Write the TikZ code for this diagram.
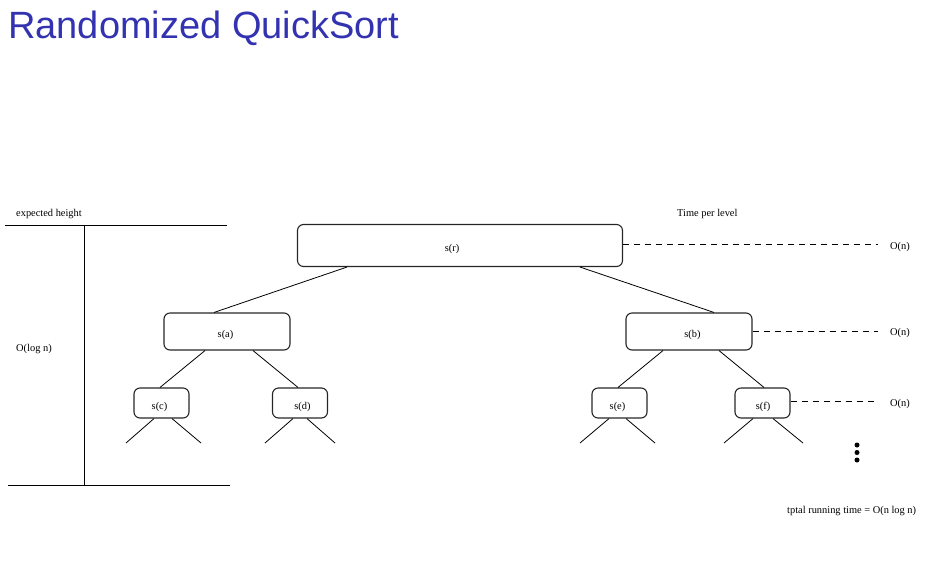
\documentclass[tikz,border=0pt]{standalone}
\usepackage{fontspec}
\setmainfont{Liberation Serif}
\newfontfamily\titlefont{Liberation Sans}
\usetikzlibrary{calc}
\definecolor{titleblue}{RGB}{51,51,178}
\newcommand\boxtxt[3]{\raisebox{-#2}[\height][\depth]{\makebox[0pt]{\hspace*{#1}\hspace*{#1}#3}}}
\begin{document}
\begin{tikzpicture}[x=1pt,y=-1pt,
  box/.style={draw=black!85,line width=1.1pt,rounded corners=6pt,inner sep=0pt,font=\fontsize{10.4}{12}\selectfont},
  lbl/.style={inner sep=0pt,anchor=west,font=\fontsize{10.4}{12}\selectfont},
  edge/.style={line width=0.8pt},
  lev/.style={line width=0.8pt,dash pattern=on 6pt off 5pt}]
\useasboundingbox (0,0) rectangle (934,574);
\node[anchor=base west,inner sep=0pt,text=titleblue,font=\titlefont\fontsize{38}{44}\selectfont] (title) at (8,38) {Randomized QuickSort};
% left height scale
\node[lbl] (eh) at (16,214) {expected height};
\node[lbl] (ologn) at (16,349.5) {O(log n)};
\draw[line width=0.9pt] (5,225) -- (227,225);
\draw[line width=0.9pt] (84,225) -- (84,485);
\draw[line width=0.9pt] (8,485) -- (230,485);
% tree nodes
\node[box,minimum width=325pt,minimum height=42pt] (r) at (460,245.5) {\boxtxt{-8pt}{3pt}{s(r)}};
\node[box,minimum width=126pt,minimum height=37pt] (a) at (227,331.5) {\boxtxt{-1.5pt}{3.5pt}{s(a)}};
\node[box,minimum width=126pt,minimum height=37pt] (b) at (689,331.5) {\boxtxt{3.5pt}{3.5pt}{s(b)}};
\node[box,minimum width=55pt,minimum height=30pt] (c) at (161.5,403) {\boxtxt{-2pt}{3.5pt}{s(c)}};
\node[box,minimum width=55pt,minimum height=30pt] (d) at (300,403) {\boxtxt{2.5pt}{3.5pt}{s(d)}};
\node[box,minimum width=55pt,minimum height=30pt] (e) at (619.5,403) {\boxtxt{-2pt}{3.5pt}{s(e)}};
\node[box,minimum width=55pt,minimum height=30pt] (f) at (762.5,403) {\boxtxt{0.5pt}{3.5pt}{s(f)}};
% edges
\draw[edge] ($(r.south)+(-113,0)$) -- ($(a.north)+(-13,0)$);
\draw[edge] ($(r.south)+(120,0)$) -- ($(b.north)+(25,0)$);
\draw[edge] ($(a.south)+(-22,0)$) -- ($(c.north)+(-1.5,0)$);
\draw[edge] ($(a.south)+(26,0)$) -- ($(d.north)+(-2,0)$);
\draw[edge] ($(b.south)+(-26,0)$) -- ($(e.north)+(-1.5,0)$);
\draw[edge] ($(b.south)+(30,0)$) -- ($(f.north)+(1.5,0)$);
% leaf stubs
\coordinate (c1) at (126,443); \coordinate (c2) at (201,443);
\coordinate (d1) at (265,443); \coordinate (d2) at (335,443);
\coordinate (e1) at (580,443); \coordinate (e2) at (655,443);
\coordinate (f1) at (724,443); \coordinate (f2) at (803,443);
\draw[edge] ($(c.south)+(-7.5,0)$) -- (c1);
\draw[edge] ($(c.south)+(10.5,0)$) -- (c2);
\draw[edge] ($(d.south)+(-7,0)$) -- (d1);
\draw[edge] ($(d.south)+(7,0)$) -- (d2);
\draw[edge] ($(e.south)+(-10.5,0)$) -- (e1);
\draw[edge] ($(e.south)+(6.5,0)$) -- (e2);
\draw[edge] ($(f.south)+(-9.5,0)$) -- (f1);
\draw[edge] ($(f.south)+(10.5,0)$) -- (f2);
% time per level
\node[lbl] (tpl) at (677,214) {Time per level};
\node[lbl] (on1) at (890,247) {O(n)};
\node[lbl] (on2) at (890,332.5) {O(n)};
\node[lbl] (on3) at (890,403.5) {O(n)};
\coordinate (l1s) at ([yshift=1.5pt]r.east);
\coordinate (l2s) at (b.east);
\coordinate (l3s) at ([yshift=2pt]f.east);
\coordinate (l1x) at ([xshift=-12pt]on1.west);
\coordinate (l2x) at ([xshift=-12pt]on2.west);
\coordinate (l3x) at ([xshift=-13pt]on3.west);
\draw[lev] (l1s) -- (l1x |- l1s);
\draw[lev] (l2s) -- (l2x |- l2s);
\draw[lev] (l3s) -- (l3x |- l3s);
% dots
\fill (857,445) circle (2.5pt) (857,452.5) circle (2.5pt) (857,460) circle (2.5pt);
\node[lbl] (total) at (787,511.5) {tptal running time = O(n log n)};
\end{tikzpicture}
\end{document}
